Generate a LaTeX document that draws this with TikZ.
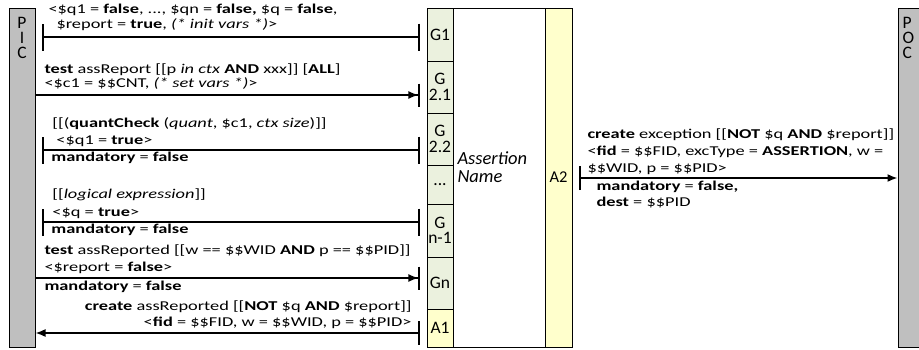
\documentclass[tikz,border=0pt]{standalone}
\usepackage{fontspec}
\setmainfont{Carlito}
\newfontfamily\msgfont{Carlito}[FakeStretch=1.36]
\usetikzlibrary{arrows.meta}
\definecolor{gatefill}{HTML}{EBF1DE}
\definecolor{actfill}{HTML}{FFFFCC}
\definecolor{rolefill}{HTML}{BFBFBF}

\begin{document}
\begin{tikzpicture}[x=1pt, y=-1pt, line width=1pt,
		txt/.style={anchor=base west, align=left, inner sep=0pt, font=\msgfont\fontsize{13.5}{16}\selectfont},
		role/.style={draw, fill=rolefill, minimum width=26pt, minimum height=339pt, inner sep=0pt},
		rolelbl/.style={inner sep=0pt, font=\fontsize{17.5}{15}\selectfont},
		guard/.style={{Bar[width=27pt]}-{Bar[width=27pt]}, line width=1.6pt},
		send/.style={-{Latex[length=10pt,width=8pt]Bar[width=23pt]}, line width=1.6pt},
		reply/.style={{Bar[width=24pt]}-{Latex[length=10pt,width=8pt]}, line width=1.6pt}]
		\useasboundingbox (0,0) rectangle (919,349);
		% roles
		\node[role] (pic) at (22,177.5) {};
		\node[role, minimum width=21pt] (poc) at (908.5,177.5) {};
		\foreach \l [count=\i] in {P,I,C}
			\node[rolelbl, anchor=base] (pic\i) at (22,13+15*\i) {\l};
		\foreach \l [count=\i] in {P,O,C}
			\node[rolelbl, anchor=base west] (poc\i) at (902,13+15*\i) {\l};
		% assertion
		\begin{scope}[every node/.style={draw, fill=gatefill, minimum width=26pt, inner sep=0pt, align=center, font=\fontsize{17.5}{15.5}\selectfont}]
			\node[minimum height=53pt] (g1) at (440,34.5) {G1};
			\node[minimum height=52pt] (g21) at (440,87) {G\\2.1};
			\node[minimum height=52pt] (g22) at (440,139) {G\\2.2};
			\node[minimum height=39pt] (gdots) at (440,184.5) {...};
			\node[minimum height=53pt] (gn1) at (440,230.5) {G\\n-1};
			\node[minimum height=52pt] (gn) at (440,283) {Gn};
			\node[minimum height=38pt, fill=actfill] (a1) at (440,328) {A1};
		\end{scope}
		\node[draw, minimum width=92pt, minimum height=339pt] (name) at (499,177.5) {};
		\node[draw, fill=actfill, minimum width=27pt, minimum height=339pt, font=\fontsize{16.5}{15}\selectfont] (a2) at (558.5,177.5) {A2};
		\node[txt, font=\fontsize{18.5}{18}\selectfont\itshape] (namelbl) at (457,182.5) {Assertion\\Name};
		% messages
		\coordinate (g1out) at (42,37);
		\coordinate (g1in) at (420,37);
		\coordinate (g21in) at (420,95);
		\coordinate (g22out) at (42,150);
		\coordinate (g22in) at (420,150);
		\coordinate (gn1out) at (42,222);
		\coordinate (gn1in) at (420,222);
		\coordinate (gnin) at (420,278);
		\coordinate (a1out) at (420,333);
		\coordinate (a2out) at (579,178);
		\draw[guard] (g1out) -- (g1in);
		\draw[send] (pic.east |- g21in) -- (g21in);
		\draw[guard] (g22out) -- (g22in);
		\draw[guard] (gn1out) -- (gn1in);
		\draw[send] (pic.east |- gnin) -- (gnin);
		\draw[reply] (a1out) -- (pic.east |- a1out);
		\draw[reply] (a2out) -- (poc.west |- a2out);
		% labels
		\node[txt] (t1) at (48,28) {<\$q1 = \textbf{false}, ..., \$qn = \textbf{false,} \$q = \textbf{false},\\[-1pt]\hspace{8pt}\$report = \textbf{true}, \textit{(* init vars *)}>};
		\node[txt] (t2) at (44,87) {\textbf{test} assReport [[p \textit{in ctx} \textbf{AND} xxx]] [\textbf{ALL}]\\[-2pt]<\$c1 = \$\$CNT, \textit{(* set vars *)}>};
		\node[txt] (t3) at (51,161) {\hspace{1pt}[[(\textbf{quantCheck} (\textit{quant}, \$c1, \textit{ctx size})]]\\[1pt]\hspace{5pt}<\$q1 = \textbf{true}>\\[1pt]\textbf{mandatory} = \textbf{false}};
		\node[txt] (t4) at (51,233) {\hspace{1pt}[[\textit{logical expression}]]\\[2pt]\hspace{1pt}<\$q = \textbf{true}>\\[1pt]\textbf{mandatory} = \textbf{false}};
		\node[txt] (t5) at (44,290) {\textbf{test} assReported [[w == \$\$WID \textbf{AND} p == \$\$PID]]\\[1pt]<\$report = \textbf{false}>\\[3pt]\textbf{mandatory} = \textbf{false}};
		\node[txt, anchor=base east, align=right] (t6) at (412,326) {\textbf{create} assReported [[\textbf{NOT} \$q \textbf{AND} \$report]]\\<\textbf{fid} = \$\$FID, w = \$\$WID, p = \$\$PID>\hspace{4pt}};
		\node[txt] (t7) at (587,206) {\textbf{create} exception [[\textbf{NOT} \$q \textbf{AND} \$report]]\\[1pt]<\textbf{fid} = \$\$FID, excType = \textbf{ASSERTION}, w =\\[1pt]\$\$WID, p = \$\$PID>\\[2pt]\hspace{9pt}\textbf{mandatory} = \textbf{false,}\\\hspace{9pt}\textbf{dest} = \$\$PID};
	\end{tikzpicture}
\end{document}
